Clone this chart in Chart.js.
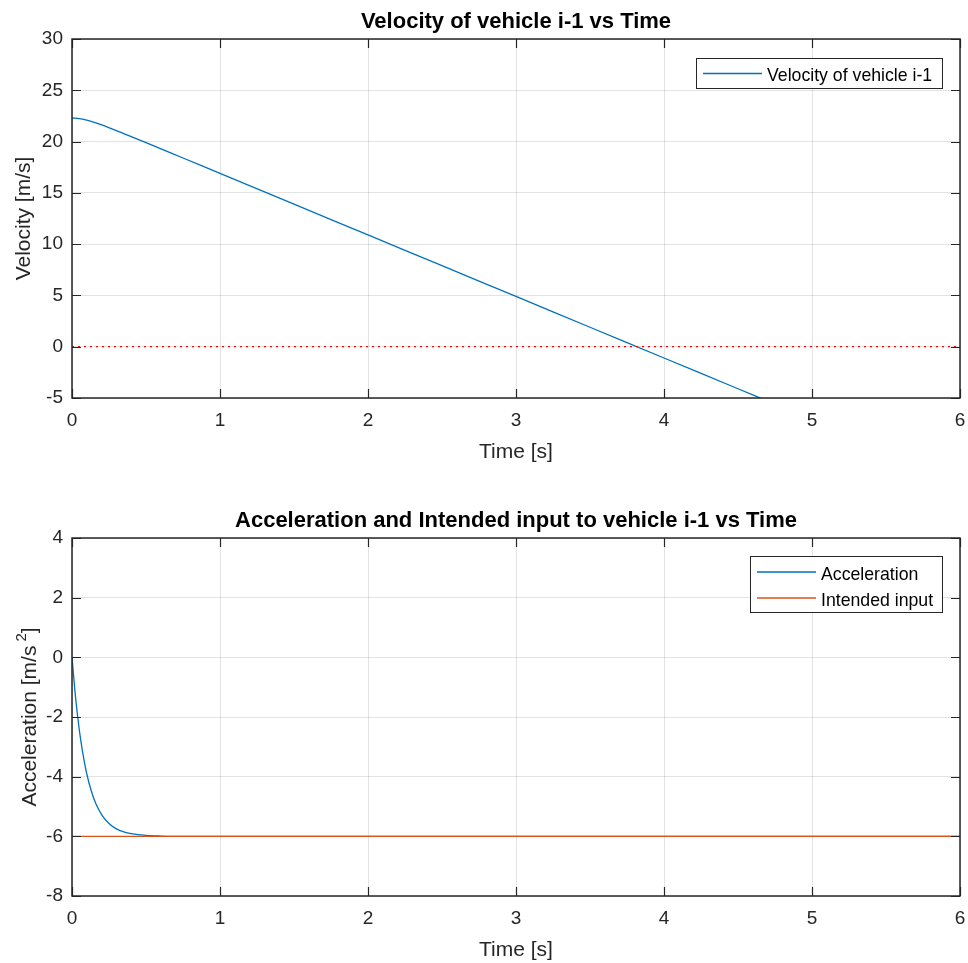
<!DOCTYPE html>
<html>
<head>
<meta charset="utf-8">
<title>Vehicle i-1</title>
<script src="https://cdn.jsdelivr.net/npm/chart.js@4.4.1/dist/chart.umd.min.js"></script>
<style>
    body { margin: 0; background: #fff; }
    .panel { position: absolute; left: 0; width: 968px; }
</style>
</head>
<body>
<div class="panel" style="top: 0; height: 481px;"><canvas id="velocityChart"></canvas></div>
<div class="panel" style="top: 481px; height: 482px;"><canvas id="accelChart"></canvas></div>
<script>
// Velocity of the leading vehicle
const velTime   = [0, 0.05, 0.1, 0.15, 0.2, 0.3, 0.4, 0.5, 0.75, 1, 1.5, 2, 2.5, 3, 3.5, 4, 4.5, 4.7];
const velValues = [22.3, 22.24, 22.08, 21.87, 21.62, 21.07, 20.49, 19.9, 18.4, 16.9, 13.9, 10.9, 7.9, 4.9, 1.9, -1.1, -4.1, -5.3];

// zero reference line
const zeroTime   = [0, 6];
const zeroValues = [0, 0];

// measured acceleration
const accTime   = [0, 0.02, 0.04, 0.06, 0.08, 0.1, 0.13, 0.16, 0.2, 0.25, 0.3, 0.35, 0.4, 0.5, 0.6, 0.8, 1, 2, 3, 4, 5, 6];
const accValues = [0, -1.14, -2.06, -2.81, -3.41, -3.91, -4.47, -4.89, -5.27, -5.57, -5.75, -5.85, -5.91, -5.97, -5.99, -6, -6, -6, -6, -6, -6, -6];

// intended input (constant braking command)
const inputTime   = [0, 6];
const inputValues = [-6, -6];

const timeTicks  = [0, 1, 2, 3, 4, 5, 6];
const velTicks   = [-5, 0, 5, 10, 15, 20, 25, 30];
const accelTicks = [-8, -6, -4, -2, 0, 2, 4];

const FONT = '"Liberation Sans", Arial, Helvetica, sans-serif';
const AXIS_COLOR = '#262626';
const BLUE = '#0072bd';
const ORANGE = '#d95319';

const toPoints = (xs, ys) => xs.map((x, i) => ({ x: x, y: ys[i] }));

// box, inward ticks, titles and legend drawn MATLAB-style
const matlabFrame = {
    id: 'matlabFrame',
    afterDatasetsDraw(chart, args, o) {
        const { ctx, chartArea: a, scales: { x, y } } = chart;
        const tick = 9;
        ctx.save();

        ctx.strokeStyle = AXIS_COLOR;
        ctx.lineWidth = 1.2;
        ctx.beginPath();
        x.ticks.forEach(t => {
            const px = Math.round(x.getPixelForValue(t.value)) + 0.5;
            ctx.moveTo(px, a.bottom); ctx.lineTo(px, a.bottom - tick);
            ctx.moveTo(px, a.top); ctx.lineTo(px, a.top + tick);
        });
        y.ticks.forEach(t => {
            const py = Math.round(y.getPixelForValue(t.value)) + 0.5;
            ctx.moveTo(a.left, py); ctx.lineTo(a.left + tick, py);
            ctx.moveTo(a.right, py); ctx.lineTo(a.right - tick, py);
        });
        ctx.stroke();
        ctx.lineWidth = 1.5;
        ctx.strokeRect(a.left, a.top, a.right - a.left, a.bottom - a.top);

        // title
        ctx.fillStyle = '#000';
        ctx.textAlign = 'center';
        ctx.textBaseline = 'alphabetic';
        ctx.font = 'bold 22px ' + FONT;
        ctx.fillText(o.title, (a.left + a.right) / 2, o.titleY);

        // x label
        ctx.fillStyle = AXIS_COLOR;
        ctx.font = '21px ' + FONT;
        ctx.fillText(o.xLabel, (a.left + a.right) / 2, a.bottom + o.xLabelOffset);

        // y label, rotated, optional superscript
        ctx.save();
        ctx.translate(o.yLabelX, (a.top + a.bottom) / 2);
        ctx.rotate(-Math.PI / 2);
        ctx.font = '21px ' + FONT;
        if (o.ySup) {
            ctx.textAlign = 'left';
            const w1 = ctx.measureText(o.yLabel).width;
            ctx.font = '15px ' + FONT;
            const w2 = ctx.measureText(o.ySup).width;
            ctx.font = '21px ' + FONT;
            const w3 = ctx.measureText(o.yLabelEnd).width;
            const gap = 4;
            let cx = -(w1 + gap + w2 + w3) / 2;
            ctx.fillText(o.yLabel, cx, 0);
            cx += w1 + gap;
            ctx.font = '15px ' + FONT;
            ctx.fillText(o.ySup, cx, -10);
            cx += w2;
            ctx.font = '21px ' + FONT;
            ctx.fillText(o.yLabelEnd, cx, 0);
        } else {
            ctx.fillText(o.yLabel, 0, 0);
        }
        ctx.restore();

        // legend
        const L = o.legend;
        const entries = chart.data.datasets.filter(d => d.label);
        ctx.fillStyle = '#fff';
        ctx.fillRect(L.x, L.y, L.w, L.h);
        ctx.strokeStyle = AXIS_COLOR;
        ctx.lineWidth = 1;
        ctx.strokeRect(L.x + 0.5, L.y + 0.5, L.w, L.h);
        ctx.font = '17.7px ' + FONT;
        ctx.textAlign = 'left';
        entries.forEach((d, i) => {
            const ly = L.y + L.firstRow + i * L.rowStep;
            ctx.strokeStyle = d.borderColor;
            ctx.lineWidth = 1.3;
            ctx.beginPath();
            ctx.moveTo(L.x + 7, ly);
            ctx.lineTo(L.x + 66, ly);
            ctx.stroke();
            ctx.fillStyle = '#000';
            ctx.fillText(d.label, L.x + 71, ly + 7.5);
        });

        ctx.restore();
    }
};

function axes(xTicks, yTicks, yMin, yMax, xHeight) {
    const grid = { color: 'rgba(38,38,38,0.13)', lineWidth: 1, drawTicks: false };
    const tickFont = { family: FONT, size: 19 };
    return {
        x: {
            type: 'linear', min: 0, max: 6,
            grid: grid, border: { display: false },
            afterBuildTicks: s => { s.ticks = xTicks.map(v => ({ value: v })); },
            afterFit: s => { s.height = xHeight; s.paddingLeft = 0; s.paddingRight = 0; },
            ticks: { color: AXIS_COLOR, font: tickFont, padding: 11, maxRotation: 0 }
        },
        y: {
            type: 'linear', min: yMin, max: yMax,
            grid: grid, border: { display: false },
            afterBuildTicks: s => { s.ticks = yTicks.map(v => ({ value: v })); },
            afterFit: s => { s.width = 72; s.paddingTop = 0; s.paddingBottom = 0; },
            ticks: { color: AXIS_COLOR, font: tickFont, padding: 9 }
        }
    };
}

const common = {
    responsive: true, maintainAspectRatio: false, animation: false,
    elements: { point: { radius: 0 } },
    plugins: { legend: { display: false }, tooltip: { enabled: false } }
};

new Chart(document.getElementById('velocityChart'), {
    type: 'line',
    data: {
        datasets: [
            { label: 'Velocity of vehicle i-1', data: toPoints(velTime, velValues),
              borderColor: BLUE, borderWidth: 1.3, cubicInterpolationMode: 'monotone', order: 1 },
            { data: toPoints(zeroTime, zeroValues),
              borderColor: '#ff0000', borderWidth: 1.2, borderDash: [2, 4], order: 0 }
        ]
    },
    options: {
        ...common,
        layout: { padding: { top: 39, right: 8, left: 0, bottom: 0 } },
        scales: axes(timeTicks, velTicks, -5, 30, 83),
        plugins: {
            ...common.plugins,
            matlabFrame: {
                title: 'Velocity of vehicle i-1 vs Time', titleY: 28,
                xLabel: 'Time [s]', xLabelOffset: 60,
                yLabel: 'Velocity [m/s]', yLabelX: 30,
                legend: { x: 696, y: 58, w: 246, h: 30, firstRow: 15.5, rowStep: 26 }
            }
        }
    },
    plugins: [matlabFrame]
});

new Chart(document.getElementById('accelChart'), {
    type: 'line',
    data: {
        datasets: [
            { label: 'Acceleration', data: toPoints(accTime, accValues),
              borderColor: BLUE, borderWidth: 1.3, cubicInterpolationMode: 'monotone', order: 1 },
            { label: 'Intended input', data: toPoints(inputTime, inputValues),
              borderColor: ORANGE, borderWidth: 1.3, order: 0 }
        ]
    },
    options: {
        ...common,
        layout: { padding: { top: 57, right: 8, left: 0, bottom: 0 } },
        scales: axes(timeTicks, accelTicks, -8, 4, 67),
        plugins: {
            ...common.plugins,
            matlabFrame: {
                title: 'Acceleration and Intended input to vehicle i-1 vs Time', titleY: 46,
                xLabel: 'Time [s]', xLabelOffset: 60,
                yLabel: 'Acceleration [m/s', ySup: '2', yLabelEnd: ']', yLabelX: 36,
                legend: { x: 750, y: 75, w: 192, h: 56, firstRow: 16, rowStep: 26 }
            }
        }
    },
    plugins: [matlabFrame]
});
</script>
</body>
</html>
